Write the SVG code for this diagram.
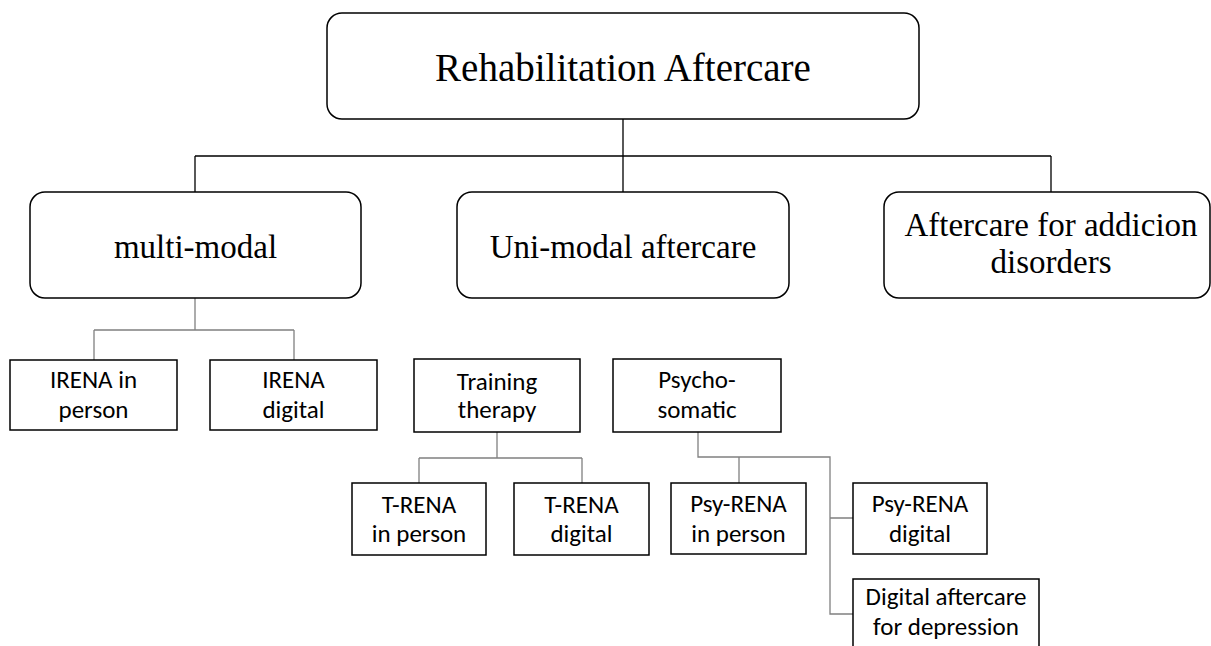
<svg xmlns="http://www.w3.org/2000/svg" width="1211" height="646" viewBox="0 0 1211 646">
<style>
.big{fill:#fff;stroke:#000;stroke-width:1.5}
.small{fill:#fff;stroke:#000;stroke-width:1.5}
.tt{font-family:"Liberation Serif","Times New Roman",serif;fill:#000;text-anchor:middle}
.ct{font-family:Carlito,Lato,"Liberation Sans",sans-serif;font-size:25px;fill:#000;text-anchor:middle}
.c1{fill:none;stroke:#000;stroke-width:1.3}
.c2{fill:none;stroke:#808080;stroke-width:1.3}
</style>
<rect width="1211" height="646" fill="#fff"/>
<g id="connectors">
<path class="c1" d="M623,119V156M195,156H1051M195,156V192M623,156V192M1051,156V192"/>
<path class="c2" d="M195,298V330M94,330H294M94,330V360M294,330V360"/>
<path class="c2" d="M497,432V458M419,458H582M419,458V483M582,458V483"/>
<path class="c2" d="M698,432V457H830V614H853M739,457V483M830,518H853"/>
</g>
<g id="root"><rect class="big" x="327" y="13" width="592" height="106" rx="15"/><text class="tt" x="623" y="81" font-size="39">Rehabilitation Aftercare</text></g>
<g id="multi"><rect class="big" x="30" y="192" width="331" height="106" rx="15"/><text class="tt" x="195.5" y="258" font-size="33">multi-modal</text></g>
<g id="uni"><rect class="big" x="457" y="192" width="332" height="106" rx="15"/><text class="tt" x="623" y="258" font-size="33">Uni-modal aftercare</text></g>
<g id="addiction"><rect class="big" x="884" y="192" width="326" height="106" rx="15"/><text class="tt" x="1051" y="236" font-size="33">Aftercare for addicion</text><text class="tt" x="1051" y="273" font-size="33">disorders</text></g>
<g id="irena-person"><rect class="small" x="10" y="360" width="167" height="70"/><text class="ct" x="93.5" y="388">IRENA in</text><text class="ct" x="93.5" y="418">person</text></g>
<g id="irena-digital"><rect class="small" x="210" y="360" width="167" height="70"/><text class="ct" x="293.5" y="388">IRENA</text><text class="ct" x="293.5" y="418">digital</text></g>
<g id="training"><rect class="small" x="414" y="359" width="166" height="73"/><text class="ct" x="497" y="390">Training</text><text class="ct" x="497" y="418">therapy</text></g>
<g id="psycho"><rect class="small" x="613" y="359" width="168" height="73"/><text class="ct" x="697" y="388">Psycho-</text><text class="ct" x="697" y="418">somatic</text></g>
<g id="trena-person"><rect class="small" x="352" y="483" width="134" height="72"/><text class="ct" x="419" y="513">T-RENA</text><text class="ct" x="419" y="542">in person</text></g>
<g id="trena-digital"><rect class="small" x="514" y="483" width="135" height="72"/><text class="ct" x="581.5" y="513">T-RENA</text><text class="ct" x="581.5" y="542">digital</text></g>
<g id="psyrena-person"><rect class="small" x="671" y="483" width="135" height="71"/><text class="ct" x="738.5" y="512">Psy-RENA</text><text class="ct" x="738.5" y="542">in person</text></g>
<g id="psyrena-digital"><rect class="small" x="853" y="483" width="134" height="71"/><text class="ct" x="920" y="512">Psy-RENA</text><text class="ct" x="920" y="542">digital</text></g>
<g id="digital-depression"><rect class="small" x="853" y="579" width="186" height="80"/><text class="ct" x="946" y="605">Digital aftercare</text><text class="ct" x="946" y="635">for depression</text></g>
</svg>
